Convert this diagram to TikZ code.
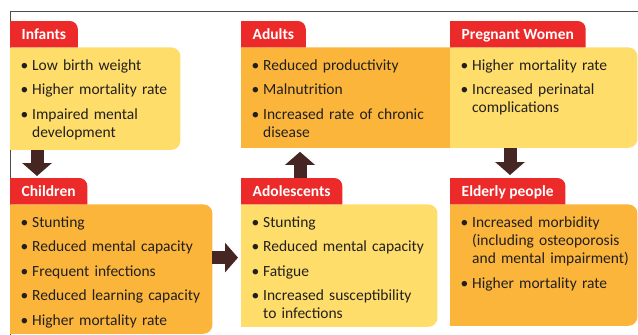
\documentclass[tikz,border=0pt]{standalone}
\usepackage{fontspec}
\setmainfont{Carlito}
\usetikzlibrary{arrows.meta,backgrounds}
\definecolor{tabred}{HTML}{EC2A2A}
\definecolor{sun}{HTML}{FEDD6A}
\definecolor{amber}{HTML}{FBB53B}
\definecolor{cocoa}{HTML}{452622}
\definecolor{ink}{HTML}{231F20}
\newcommand\bitem[1]{\par\ifdim\prevdepth>5pt\prevdepth=2pt\fi
  \noindent\makebox[10pt][l]{\hspace{-1.5pt}\textbullet}\parbox[t]{175pt}{#1}}

\begin{document}
\begin{tikzpicture}
  [x=1pt,y=-1pt,
   tab/.style={anchor=north west,inner xsep=11.5pt,inner ysep=0pt,minimum height=26pt,
     text height=12.5pt,text depth=2.5pt,text=white,font=\fontsize{15.5}{18}\selectfont\bfseries},
   box/.style={anchor=north west,inner sep=0pt},
   list/.style={anchor=north west,inner xsep=12pt,inner ysep=0pt,yshift=2pt,text=ink,text width=190pt,
     font=\fontsize{15.5}{18}\selectfont\setlength{\parskip}{6.5pt}},
   link/.style={cocoa,line width=13pt,-{Triangle[length=13pt,width=29pt]}}]
  \useasboundingbox (0,0) rectangle (638,335);

  \node (infants-tab) [tab] at (10,21) {Infants};
  \node (adults-tab) [tab] at (241,21) {Adults};
  \node (pregnant-tab) [tab] at (450,21) {Pregnant Women};
  \node (children-tab) [tab] at (10,178) {Children};
  \node (adolescents-tab) [tab] at (241,178) {Adolescents};
  \node (elderly-tab) [tab] at (450,178) {Elderly people};

  \node (infants) [box,minimum width=170pt,minimum height=102pt] at (infants-tab.south west) {};
  \node (adults) [box,minimum width=219pt,minimum height=100pt] at (adults-tab.south west) {};
  \node (pregnant) [box,minimum width=187pt,minimum height=100pt] at (pregnant-tab.south west) {};
  \node (children) [box,minimum width=202pt,minimum height=129pt] at (children-tab.south west) {};
  \node (adolescents) [box,minimum width=196pt,minimum height=122pt] at (adolescents-tab.south west) {};
  \node (elderly) [box,minimum width=187pt,minimum height=121pt] at (elderly-tab.south west) {};

  \node (infants-list) [list] at (infants.north west)
    {\bitem{Low birth weight}\bitem{Higher mortality rate}\bitem{Impaired mental\\development}};
  \node (adults-list) [list] at (adults.north west)
    {\bitem{Reduced productivity}\bitem{Malnutrition}\bitem{Increased rate of chronic\\disease}};
  \node (pregnant-list) [list] at (pregnant.north west)
    {\bitem{Higher mortality rate}\bitem{Increased perinatal\\complications}};
  \node (children-list) [list] at (children.north west)
    {\bitem{Stunting}\bitem{Reduced mental capacity}\bitem{Frequent infections}\bitem{Reduced learning capacity}\bitem{Higher mortality rate}};
  \node (adolescents-list) [list] at (adolescents.north west)
    {\bitem{Stunting}\bitem{Reduced mental capacity}\bitem{Fatigue}\bitem{Increased susceptibility\\to infections}};
  \node (elderly-list) [list] at (elderly.north west)
    {\bitem{Increased morbidity\\(including osteoporosis\\and mental impairment)}\bitem{Higher mortality rate}};

  \begin{scope}[on background layer]
    \draw[gray!60!black,line width=.8pt] (10,335) -- (10,11) -- (638,11);
    \foreach \n/\c in {infants/sun,adults/amber,pregnant/sun,children/amber,adolescents/sun,elderly/amber}
      \fill[\c] (\n.south west) -- (\n.north west) -- ([xshift=-9pt]\n.north east)
        arc[start angle=90,end angle=0,radius=9pt] -- ([yshift=9pt]\n.south east)
        arc[start angle=0,end angle=-90,radius=9pt] -- cycle;
    \foreach \n in {infants-tab,adults-tab,pregnant-tab,children-tab,adolescents-tab,elderly-tab}
      \fill[tabred] (\n.south west) -- (\n.north west) -- ([xshift=-8pt]\n.north east)
        arc[start angle=90,end angle=0,radius=8pt] -- (\n.south east) -- cycle;
  \end{scope}

  \draw[link,shorten >=2pt] ([xshift=27pt]infants.south west) -- ([xshift=27pt]children-tab.north west);
  \draw[link,shorten >=3pt] ([yshift=11.5pt]children.east) -- ([yshift=11.5pt]children.east -| adolescents.west);
  \draw[link,shorten >=4pt] ([xshift=59pt]adolescents-tab.north west) -- ([xshift=59pt]adults.south west);
  \draw[link,shorten >=3pt] ([xshift=60pt]pregnant.south west) -- ([xshift=60pt]elderly-tab.north west);
\end{tikzpicture}
\end{document}
